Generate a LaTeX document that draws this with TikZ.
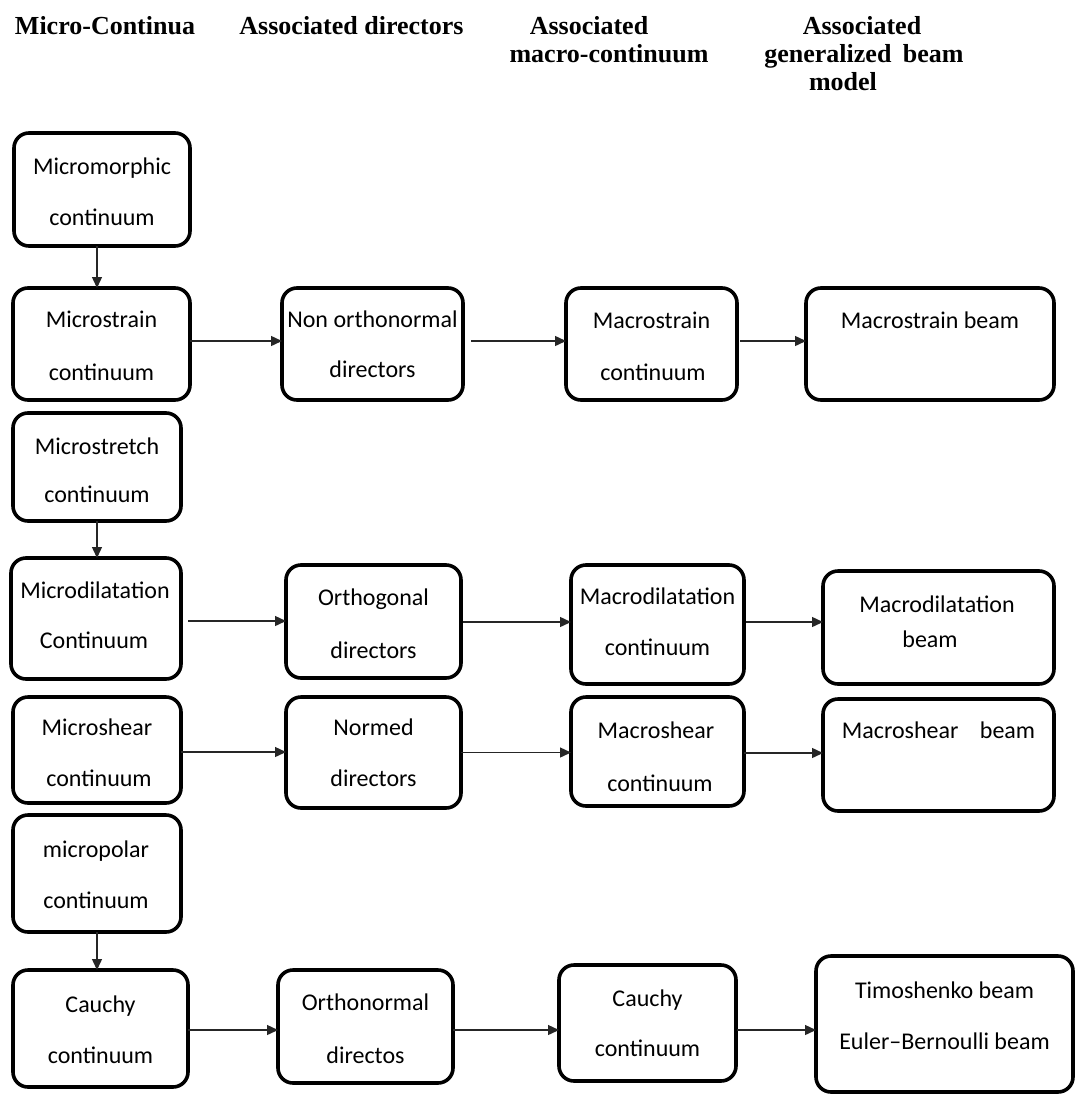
\documentclass[tikz,border=0pt]{standalone}
\usepackage{fontspec}
\setmainfont{Liberation Serif}
\newfontfamily\boxfont{Carlito}
\usetikzlibrary{arrows.meta,calc}
\newcommand\mybox[5]{\node[box,minimum width={(#4)-(#2)},minimum height={(#5)-(#3)}] (#1) at ({((#2)+(#4))/2},{((#3)+(#5))/2}) {};}
\newcommand\harr[4]{\draw[arr] ($(#1.east)+(#3,#4)$) -- ($(#1.east -| #2.west)+(0,#4)$);}
\newcommand\varr[3]{\draw[arr] ($(#1.south)+(#3,0)$) -- ($(#1.south |- #2.north)+(#3,0)$);}
\begin{document}
\begin{tikzpicture}[x=1pt,y=-1pt,
  box/.style={draw=black,line width=3.6pt,rounded corners=15pt,inner sep=0pt,outer sep=0pt},
  txt/.style={font=\boxfont\fontsize{24}{28}\selectfont,inner sep=0pt,anchor=base,text=black},
  hdr/.style={font=\bfseries\fontsize{26}{29}\selectfont,inner sep=0pt,anchor=base},
  arr/.style={draw=black!85,line width=1.4pt,-{Triangle[length=11pt,width=10pt]}}]
\useasboundingbox (0,0) rectangle (1076,1095);

% headers
\node[hdr] (h1) at (105,34) {Micro-Continua};
\node[hdr] (h2) at (351.5,34) {Associated directors};
\node[hdr] (h3a) at (589,34) {Associated};
\node[hdr] (h3b) at (609,62) {macro-continuum};
\node[hdr] (h4a) at (862,34) {Associated};
\node[hdr] (h4b) at (864,62) {generalized\hspace{5pt} beam};
\node[hdr] (h4c) at (843,90) {model};

% boxes
\mybox{mm}{14}{133}{190}{246}
\mybox{ms}{13}{288}{190}{400}
\mybox{no}{282}{288}{463}{400}
\mybox{mcs}{566}{288}{737}{400}
\mybox{mcsb}{806}{288}{1054}{400}
\mybox{mst}{13}{413}{181}{521}
\mybox{md}{11}{558}{181}{679}
\mybox{og}{286}{565}{461}{678}
\mybox{mcd}{571}{565}{744}{684}
\mybox{mcdb}{823}{571}{1054}{684}
\mybox{msh}{13}{697}{181}{803}
\mybox{nd}{286}{697}{461}{808}
\mybox{mcsh}{571}{697}{744}{806}
\mybox{mcshb}{823}{699}{1054}{811}
\mybox{mp}{13}{815}{181}{932}
\mybox{ca}{13}{970}{188}{1087}
\mybox{on}{278}{970}{453}{1083}
\mybox{cb}{559}{965}{736}{1081}
\mybox{tb}{816}{956}{1073}{1092}

% texts
\node[txt] (t1) at (102,174) {Micromorphic};
\node[txt] (t2) at (102,225) {continuum};
\node[txt] (t3) at (101.5,327) {Microstrain};
\node[txt] (t4) at (101.5,380) {continuum};
\node[txt] (t5) at (372.5,327) {Non orthonormal};
\node[txt] (t6) at (372.5,377) {directors};
\node[txt] (t7) at (651.5,328) {Macrostrain};
\node[txt] (t8) at (653,380) {continuum};
\node[txt] (t9) at (930,328) {Macrostrain beam};
\node[txt] (t10) at (97,454) {Microstretch};
\node[txt] (t11) at (97,502) {continuum};
\node[txt] (t12) at (95,598) {Microdilatation};
\node[txt] (t13) at (94,648) {Continuum};
\node[txt] (t14) at (373.5,605) {Orthogonal};
\node[txt] (t15) at (373.5,658) {directors};
\node[txt] (t16) at (657.5,604) {Macrodilatation};
\node[txt] (t17) at (657.5,655) {continuum};
\node[txt] (t18) at (937,612) {Macrodilatation};
\node[txt] (t19) at (930,647) {beam};
\node[txt] (t20) at (97,735) {Microshear};
\node[txt] (t21) at (99,786) {continuum};
\node[txt] (t22) at (373.5,735) {Normed};
\node[txt] (t23) at (373.5,786) {directors};
\node[txt] (t24) at (656,738) {Macroshear};
\node[txt] (t25) at (660,791) {continuum};
\node[txt] (t26) at (938.5,738) {Macroshear\hspace{16pt} beam};
\node[txt] (t27) at (96,857) {micropolar};
\node[txt] (t28) at (96,908) {continuum};
\node[txt] (t29) at (100.5,1012) {Cauchy};
\node[txt] (t30) at (100.5,1063) {continuum};
\node[txt] (t31) at (365.5,1010) {Orthonormal};
\node[txt] (t32) at (365.5,1063) {directos};
\node[txt] (t33) at (647.5,1006) {Cauchy};
\node[txt] (t34) at (647.5,1056) {continuum};
\node[txt] (t35) at (944.5,998) {Timoshenko beam};
\node[txt] (t36) at (944.5,1049) {Euler–Bernoulli beam};

% vertical arrows
\varr{mm}{ms}{-5}
\varr{mst}{md}{0}
\varr{mp}{ca}{0}

% horizontal arrows
\harr{ms}{no}{0}{-3}
\harr{no}{mcs}{8}{-3}
\harr{mcs}{mcsb}{3}{-3}
\harr{md}{og}{7}{2.5}
\harr{og}{mcd}{2}{0.5}
\harr{mcd}{mcdb}{2}{-2.5}
\harr{msh}{nd}{0}{2}
\harr{nd}{mcsh}{0}{0}
\harr{mcsh}{mcshb}{0}{1.5}
\harr{ca}{on}{0}{1.5}
\harr{on}{cb}{0}{3.5}
\harr{cb}{tb}{1}{7}
\end{tikzpicture}
\end{document}
